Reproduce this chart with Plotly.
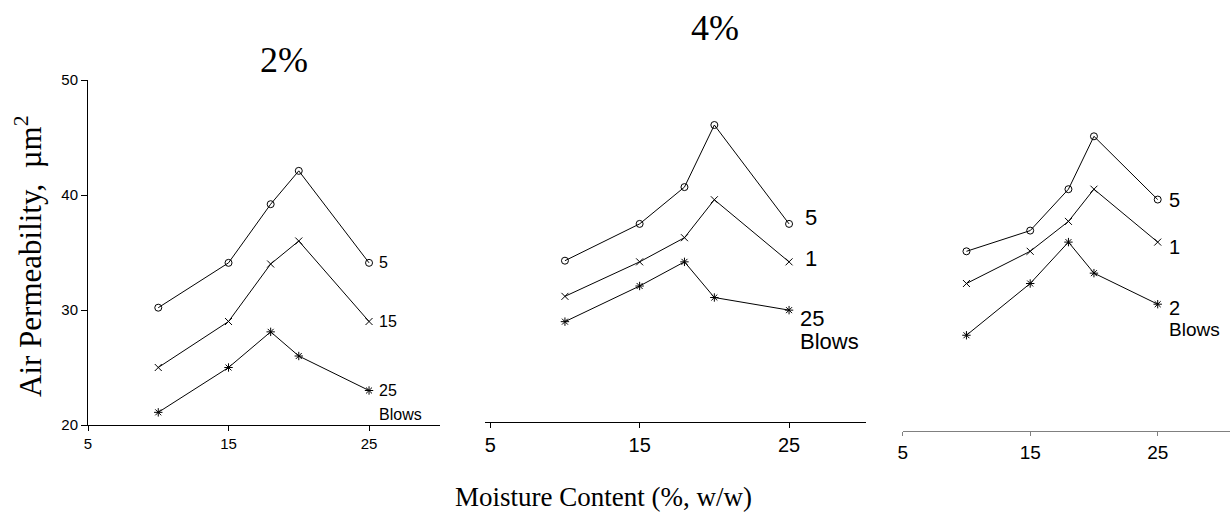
import plotly.graph_objects as go

# ---- data ----
moisture = [10, 15, 18, 20, 25]
panel_titles = ["2%", "4%"]
x_ticks = [5, 15, 25]
y_ticks = [20, 30, 40, 50]

p1_5 = [30.2, 34.1, 39.2, 42.1, 34.1]
p1_15 = [25.0, 29.0, 34.0, 36.0, 29.0]
p1_25 = [21.1, 25.0, 28.1, 26.0, 23.0]

p2_5 = [34.0, 37.2, 40.4, 45.8, 37.2]
p2_15 = [30.9, 33.9, 36.0, 39.3, 33.9]
p2_25 = [28.7, 31.8, 33.9, 30.8, 29.7]

p3_5 = [35.6, 37.4, 41.0, 45.6, 40.1]
p3_15 = [32.8, 35.6, 38.2, 41.0, 36.4]
p3_25 = [28.3, 32.8, 36.4, 33.7, 31.0]

labels_p1 = ["5", "15", "25"]
labels_p2 = ["5", "1", "25"]
labels_p3 = ["5", "1", "2"]

W, H = 1230, 517
SERIF = "Liberation Serif, Times New Roman, serif"
SANS = "Liberation Sans, Arial, sans-serif"

fig = go.Figure()

symbols = ["circle-open", "x-thin-open", "asterisk-open"]
panels = [
    ("x", "y", [p1_5, p1_15, p1_25]),
    ("x2", "y2", [p2_5, p2_15, p2_25]),
    ("x3", "y3", [p3_5, p3_15, p3_25]),
]
for xa, ya, series in panels:
    for vals, sym in zip(series, symbols):
        fig.add_trace(go.Scatter(
            x=moisture, y=vals, xaxis=xa, yaxis=ya, mode="lines+markers",
            line=dict(color="black", width=1),
            marker=dict(symbol=sym, size=7, color="black",
                        line=dict(color="black", width=1)),
            showlegend=False, hoverinfo="skip"))

def px2paper_x(px):
    return px / W

def px2paper_y(py):
    return 1 - py / H

fig.update_layout(
    template="none",
    width=W, height=H, margin=dict(l=0, r=0, t=0, b=0, autoexpand=False),
    plot_bgcolor="white", paper_bgcolor="white",
    xaxis=dict(domain=[px2paper_x(88), px2paper_x(440)], range=[5, 30.05],
               tickvals=x_ticks, showline=True, linecolor="black", linewidth=1,
               ticks="outside", ticklen=5, tickcolor="black", showgrid=False,
               zeroline=False, automargin=False,
               tickfont=dict(family=SANS, size=15, color="black"), anchor="y"),
    yaxis=dict(domain=[px2paper_y(425), px2paper_y(80)], range=[20, 50],
               tickvals=y_ticks, showline=True, linecolor="black", linewidth=1,
               ticks="outside", ticklen=6, tickcolor="black", showgrid=False,
               zeroline=False, automargin=False,
               tickfont=dict(family=SANS, size=15, color="black"), anchor="x"),
    xaxis2=dict(domain=[px2paper_x(485), px2paper_x(866)], range=[4.65, 30.15],
                tickvals=x_ticks, showline=True, linecolor="black", linewidth=1,
                ticks="outside", ticklen=5, tickcolor="black", showgrid=False,
                zeroline=False, automargin=False,
                tickfont=dict(family=SANS, size=20, color="black"), anchor="y2"),
    yaxis2=dict(domain=[px2paper_y(421.7), px2paper_y(76.7)], range=[20, 50],
                visible=False, automargin=False, anchor="x2"),
    xaxis3=dict(domain=[px2paper_x(902.7), 1.0], range=[5, 30.67],
                tickvals=x_ticks, showline=True, linecolor="#808080", linewidth=1,
                ticks="outside", ticklen=4, tickcolor="#808080", showgrid=False,
                zeroline=False, automargin=False,
                tickfont=dict(family=SANS, size=19, color="black"), anchor="y3"),
    yaxis3=dict(domain=[px2paper_y(430.7), px2paper_y(85.7)], range=[20, 50],
                visible=False, automargin=False, anchor="x3"),
)

ann = []

def paper_text(text, px, py, size, angle=0):
    ann.append(dict(text=text, x=px2paper_x(px), y=px2paper_y(py),
                    xref="paper", yref="paper", showarrow=False,
                    xanchor="center", yanchor="middle", textangle=angle,
                    font=dict(family=SERIF, size=size, color="black")))

paper_text(panel_titles[0], 284, 60, 36)
paper_text(panel_titles[1], 715, 28, 36)
paper_text("Air Permeability,  µm<sup>2</sup>", 29, 256, 31, angle=-90)
paper_text("Moisture Content (%, w/w)", 603, 497, 27)

def lab(text, x, y, xr, yr, size):
    ann.append(dict(text=text, x=x, y=y, xref=xr, yref=yr, showarrow=False,
                    xanchor="left", yanchor="middle",
                    font=dict(family=SANS, size=size, color="black")))

lab(labels_p1[0], 25.6, p1_5[-1], "x", "y", 16)
lab(labels_p1[1], 25.6, p1_15[-1], "x", "y", 16)
lab(labels_p1[2], 25.6, p1_25[-1], "x", "y", 16)
lab("Blows", 25.6, 20.95, "x", "y", 16)

lab(labels_p2[0], 25.95, 37.8, "x2", "y2", 22)
lab(labels_p2[1], 25.95, 34.15, "x2", "y2", 22)
lab(labels_p2[2], 25.6, 29.0, "x2", "y2", 22)
lab("Blows", 25.6, 26.95, "x2", "y2", 22)

lab(labels_p3[0], 25.75, 40.06, "x3", "y3", 20)
lab(labels_p3[1], 25.75, 35.97, "x3", "y3", 20)
lab(labels_p3[2], 25.75, 30.67, "x3", "y3", 20)
lab("Blows", 25.75, 28.8, "x3", "y3", 19)

fig.update_layout(annotations=ann)

fig.write_html("out.html",
               config={"displayModeBar": False},
               post_script="document.body.style.margin='0';"
                           "document.body.style.overflow='hidden';")
